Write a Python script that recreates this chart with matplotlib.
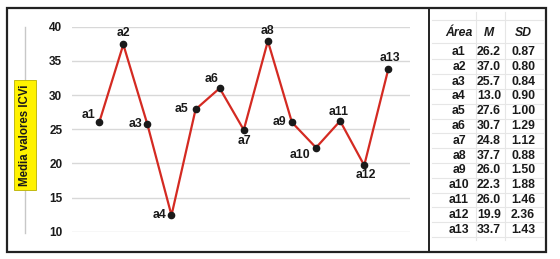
import matplotlib.pyplot as plt
from matplotlib.patches import Rectangle
from matplotlib.lines import Line2D

plt.rcParams["font.family"] = ["Liberation Sans", "DejaVu Sans"]

areas = ["a1", "a2", "a3", "a4", "a5", "a6", "a7", "a8", "a9", "a10", "a11", "a12", "a13"]
# values as plotted in the chart
chart_vals = [26.0, 37.4, 25.7, 12.4, 27.9, 31.0, 24.9, 37.9, 26.0, 22.3, 26.2, 19.7, 33.8]
# table values
table_m = ["26.2", "37.0", "25.7", "13.0", "27.6", "30.7", "24.8", "37.7", "26.0", "22.3", "26.0", "19.9", "33.7"]
table_sd = ["0.87", "0.80", "0.84", "0.90", "1.00", "1.29", "1.12", "0.88", "1.50", "1.88", "1.46", "2.36", "1.43"]
# label offsets (pixels) relative to each point
label_off = [(-11, 7), (0, 11), (-12, 0), (-12, 0), (-14, 0), (-8, 9), (1, -11),
             (0, 10), (-13, 0), (-16, -7), (-2, 9), (2, -10), (2, 11)]

W, H = 560, 259
fig = plt.figure(figsize=(W / 100, H / 100), dpi=100)


def fx(px):
    return px / W


def fy(py):
    return 1 - py / H


# outer frame and divider
fig.add_artist(Rectangle((fx(7), fy(252)), fx(546 - 7), (252 - 8) / H, transform=fig.transFigure,
                         fill=False, edgecolor="#222222", linewidth=1.6))
fig.add_artist(Line2D([fx(429), fx(429)], [fy(8), fy(252)], transform=fig.transFigure,
                      color="#222222", linewidth=1.4))

ax = fig.add_axes([fx(72), fy(231.7), fx(410 - 72), (231.7 - 26.7) / H])
x = list(range(1, len(areas) + 1))
ax.plot(x, chart_vals, color="#d42a22", linewidth=1.6, zorder=3, clip_on=False)
ax.plot(x, chart_vals, "o", color="#1a1a1a", markersize=4.5, zorder=4, clip_on=False)
for xi, yi, lab, (dx, dy) in zip(x, chart_vals, areas, label_off):
    ax.annotate(lab, (xi, yi), xytext=(dx, dy), textcoords="offset pixels",
                ha="center", va="center", fontsize=8.8, fontweight="bold", color="#1a1a1a")

ax.set_xlim(-0.13, 13.9)
ax.set_ylim(10, 40)
ax.set_yticks([10, 15, 20, 25, 30, 35, 40])
ax.set_xticks([])
ax.grid(True, axis="y", color="#d8d8d8", linewidth=1)
ax.set_axisbelow(True)
for s in ax.spines.values():
    s.set_visible(False)
ax.tick_params(axis="y", length=0, pad=7, labelsize=8.5)
for t in ax.get_yticklabels():
    t.set_fontweight("bold")
    t.set_color("#1a1a1a")

# y label with yellow box and light guide line
fig.add_artist(Line2D([fx(25), fx(25)], [fy(27), fy(233)], transform=fig.transFigure,
                      color="#c8c8c8", linewidth=1))
fig.text(fx(25), fy(135), "Media valores ICVi", rotation=90, ha="center", va="center",
         fontsize=8.3, fontweight="bold", color="#1a1a1a",
         bbox=dict(boxstyle="square,pad=0.4", facecolor="#fff200", edgecolor="#b8b000", linewidth=0.6))

# table
col_x = [459, 489, 523]
head_y = 33
row0, step = 52, 14.8
for cx, h in zip(col_x, ["Área", "M", "SD"]):
    fig.text(fx(cx), fy(head_y), h, ha="center", va="center", fontsize=8.8,
             fontweight="bold", fontstyle="italic", color="#1a1a1a")
grid_c = "#e6e6e6"
for yy in [20, 43] + [row0 + step * (i + 0.5) for i in range(len(areas))]:
    fig.add_artist(Line2D([fx(432), fx(543)], [fy(yy), fy(yy)], transform=fig.transFigure,
                          color=grid_c, linewidth=0.8))
for xx in [476, 505]:
    fig.add_artist(Line2D([fx(xx), fx(xx)], [fy(12), fy(240)], transform=fig.transFigure,
                          color=grid_c, linewidth=0.8))
for i, (a, m, sd) in enumerate(zip(areas, table_m, table_sd)):
    yy = fy(row0 + step * i)
    fig.text(fx(col_x[0]), yy, a, ha="center", va="center", fontsize=8.8, fontweight="bold", color="#1a1a1a")
    fig.text(fx(col_x[1]), yy, m, ha="center", va="center", fontsize=8.8, fontweight="bold", color="#1a1a1a")
    fig.text(fx(col_x[2]), yy, sd, ha="center", va="center", fontsize=8.8, fontweight="bold", color="#1a1a1a")

fig.savefig("out.png", dpi=100, facecolor="white")
